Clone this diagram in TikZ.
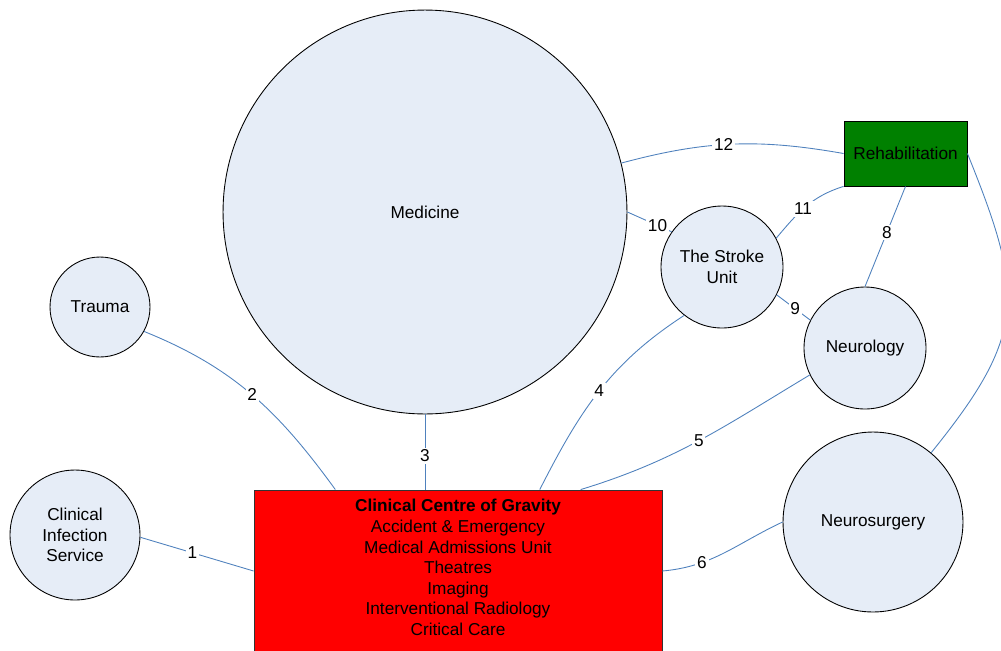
\documentclass[tikz,border=0pt]{standalone}
\usepackage{fontspec}
\setmainfont{Liberation Sans}
\usetikzlibrary{calc}
\definecolor{unitblue}{HTML}{E6EDF7}
\definecolor{linkblue}{HTML}{4F81BD}
\definecolor{rehabgreen}{HTML}{008000}
\newcommand{\diagfont}{\fontsize{9.8}{11.7}\selectfont}

\begin{document}
\begin{tikzpicture}[x=0.02cm, y=-0.02cm,
  unit/.style={circle, draw=black, line width=0.5pt, fill=unitblue, inner sep=0pt, align=center, font=\diagfont},
  gravity box/.style={rectangle, draw=black!80, line width=0.5pt, fill=red, minimum width=8.16cm, minimum height=3.24cm, align=center, inner sep=0pt, font=\diagfont},
  rehab box/.style={rectangle, draw=black, line width=0.5pt, fill=rehabgreen, minimum width=2.46cm, minimum height=1.3cm, inner sep=0pt, font=\diagfont},
  link/.style={draw=linkblue, line width=0.5pt},
  link label/.style={fill=white, inner sep=1pt, font=\diagfont}
]
\clip (0,0) rectangle (1001,650);

\node[unit, minimum size=8.08cm] (medicine) at (425,212) {Medicine};
\node[unit, minimum size=2cm] (trauma) at (100,307) {Trauma};
\node[unit, minimum size=2.6cm] (cis) at (75,535) {Clinical\\Infection\\Service};
\node[unit, minimum size=2.44cm] (stroke) at (722,267) {The Stroke\\Unit};
\node[unit, minimum size=2.44cm] (neurology) at (865,348) {Neurology};
\node[unit, minimum size=3.6cm] (neurosurgery) at (873,522) {Neurosurgery};
\node[rehab box] (rehab) at (905.5,153.5) {Rehabilitation};

\node[gravity box] (gravity) at (458,571)
{\textbf{Clinical Centre of Gravity}\\Accident \& Emergency\\Medical Admissions Unit\\Theatres\\Imaging\\Interventional Radiology\\Critical Care\\[-7.5pt]};

\draw[link] (cis.-2) -- node[link label, pos=0.46] {1} (gravity.west);
\draw[link] (trauma.-29) to[out=-22, in=126] node[link label] {2} ($(gravity.north west)!0.2!(gravity.north east)$);
\draw[link] (medicine.south) -- node[link label, pos=0.55] {3} (medicine.south |- gravity.north);
\draw[link] (stroke.-128) to[out=-147, in=63] node[link label] {4} ($(gravity.north west)!0.7!(gravity.north east)$);
\draw[link] (neurology.-154) to[out=-149, in=17] node[link label] {5} ($(gravity.north west)!0.8!(gravity.north east)$);
\draw[link] (gravity.east) to[out=5, in=205] node[link label, pos=0.3] {6} (neurosurgery.west);
\draw[link] (rehab.south) -- node[link label, pos=0.46] {8} (neurology.north);
\draw[link] (stroke.-27) -- node[link label, pos=0.55] {9} (neurology.153);
\draw[link] (medicine.0) -- node[link label, pos=0.68] {10} (stroke.145);
\draw[link] (stroke.28) to[out=50, in=197] node[link label, pos=0.45] {11} (rehab.south west);
\draw[link] (medicine.14) to[out=15, in=170] node[link label, pos=0.46] {12} (rehab.west);
\draw[link] (rehab.east) to[out=-68, in=51, looseness=1.3] (neurosurgery.50);
\end{tikzpicture}
\end{document}
